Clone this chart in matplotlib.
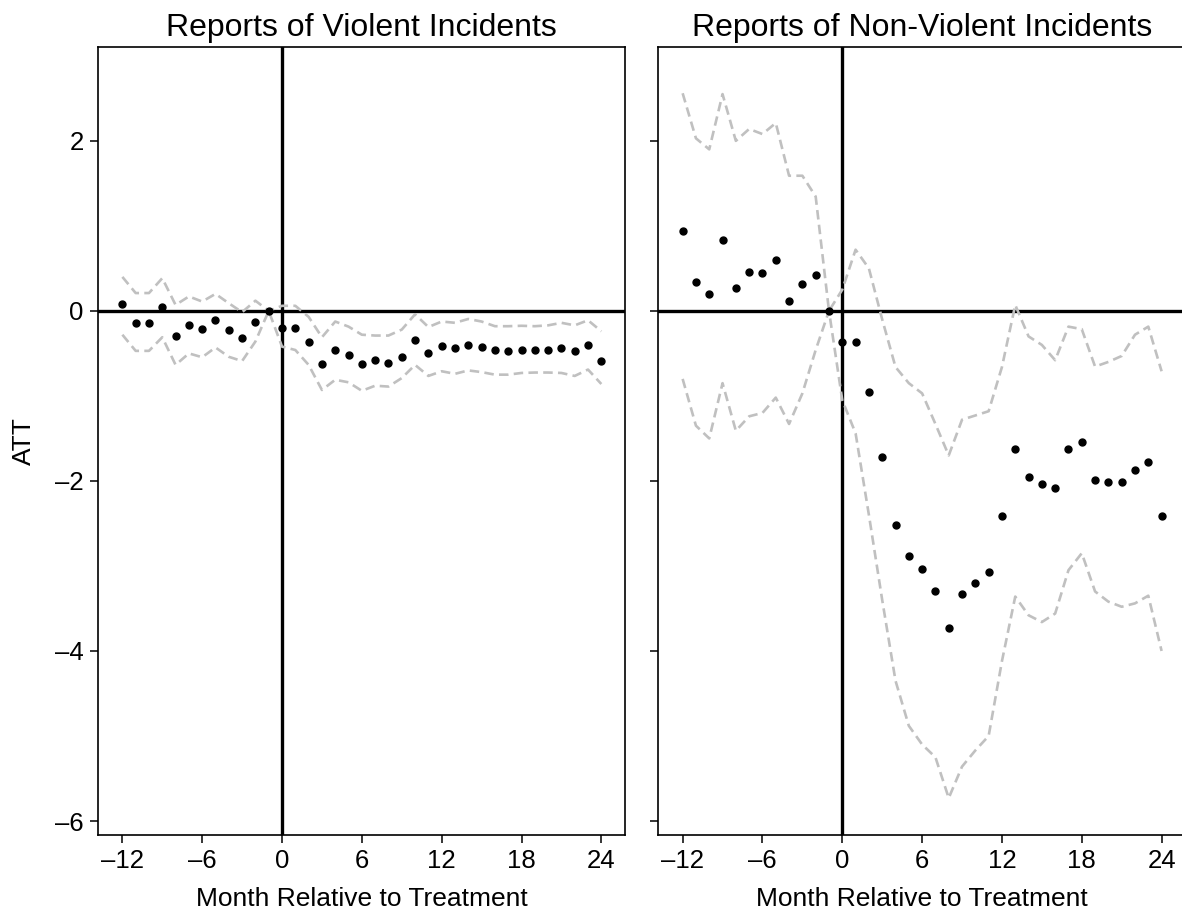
import numpy as np
import matplotlib
matplotlib.use("Agg")
import matplotlib.pyplot as plt

plt.rcParams['font.family'] = ['Liberation Sans', 'DejaVu Sans']

# Event-time axis (months relative to treatment)
months = list(range(-12, 25))

# Violent incidents: ATT estimates and 95% bounds
violent_att = [0.086, -0.145, -0.137, 0.043, -0.30, -0.17, -0.216, -0.11, -0.224, -0.318,
               -0.125, 0.0, -0.196, -0.20, -0.36, -0.63, -0.46, -0.52, -0.62, -0.58,
               -0.61, -0.54, -0.34, -0.49, -0.41, -0.44, -0.40, -0.42, -0.46, -0.47,
               -0.455, -0.46, -0.46, -0.44, -0.47, -0.40, -0.585]
violent_upper = [0.40, 0.21, 0.21, 0.385, 0.07, 0.17, 0.11, 0.20, 0.09, -0.015,
                 0.12, 0.0, 0.06, 0.06, -0.07, -0.31, -0.125, -0.185, -0.28, -0.29,
                 -0.29, -0.22, -0.04, -0.19, -0.125, -0.14, -0.095, -0.125, -0.18, -0.18,
                 -0.175, -0.18, -0.17, -0.14, -0.17, -0.11, -0.24]
violent_lower = [-0.28, -0.47, -0.47, -0.31, -0.635, -0.50, -0.545, -0.43, -0.54, -0.59,
                 -0.36, 0.0, -0.42, -0.46, -0.635, -0.93, -0.81, -0.84, -0.94, -0.88,
                 -0.89, -0.79, -0.635, -0.765, -0.71, -0.74, -0.70, -0.72, -0.75, -0.75,
                 -0.73, -0.725, -0.725, -0.73, -0.765, -0.69, -0.86]

# Non-violent incidents: ATT estimates and 95% bounds
nonviolent_att = [0.945, 0.34, 0.196, 0.83, 0.267, 0.455, 0.443, 0.60, 0.118, 0.32,
                  0.42, 0.0, -0.36, -0.37, -0.956, -1.72, -2.52, -2.88, -3.04, -3.29,
                  -3.73, -3.33, -3.20, -3.07, -2.41, -1.63, -1.95, -2.035, -2.08, -1.62,
                  -1.54, -1.99, -2.01, -2.01, -1.87, -1.78, -2.41]
nonviolent_upper = [2.56, 2.03, 1.90, 2.55, 2.00, 2.14, 2.08, 2.21, 1.59, 1.59,
                    1.345, 0.0, 0.25, 0.72, 0.50, -0.10, -0.66, -0.85, -0.97, -1.33,
                    -1.70, -1.28, -1.23, -1.18, -0.66, 0.07, -0.30, -0.40, -0.58, -0.185,
                    -0.215, -0.655, -0.60, -0.53, -0.28, -0.185, -0.71]
nonviolent_lower = [-0.80, -1.35, -1.50, -0.85, -1.41, -1.24, -1.20, -1.02, -1.33, -0.97,
                    -0.46, 0.0, -1.05, -1.44, -2.40, -3.40, -4.35, -4.88, -5.10, -5.25,
                    -5.73, -5.36, -5.17, -5.00, -4.12, -3.36, -3.58, -3.66, -3.56, -3.05,
                    -2.85, -3.30, -3.42, -3.48, -3.44, -3.35, -4.00]

titles = ["Reports of Violent Incidents", "Reports of Non-Violent Incidents"]
xticks = [-12, -6, 0, 6, 12, 18, 24]
yticks = [-6, -4, -2, 0, 2]

fig = plt.figure(figsize=(11.82, 9.13), dpi=100)
ax_left = fig.add_axes([0.0827, 0.0854, 0.4463, 0.8633])
ax_right = fig.add_axes([0.5567, 0.0854, 0.4463, 0.8633], sharey=ax_left)

panels = [
    (ax_left, violent_att, violent_upper, violent_lower),
    (ax_right, nonviolent_att, nonviolent_upper, nonviolent_lower),
]

for i, (ax, att, up, lo) in enumerate(panels):
    ax.axhline(0, color='black', lw=2.4, zorder=2)
    ax.axvline(0, color='black', lw=2.4, zorder=2)
    ax.plot(months, up, color='#c0c0c0', lw=1.9, ls=(0, (3.6, 2.0)), zorder=3)
    ax.plot(months, lo, color='#c0c0c0', lw=1.9, ls=(0, (3.6, 2.0)), zorder=3)
    ax.plot(months, att, 'o', color='black', ms=5.0, zorder=4)
    ax.set_xlim(-13.85, 25.8)
    ax.set_xticks(xticks)
    ax.set_xticklabels([str(t).replace('-', '\u2013') for t in xticks])
    ax.set_title(titles[i], fontsize=23, pad=8)
    ax.set_xlabel("Month Relative to Treatment", fontsize=19, labelpad=10)
    ax.tick_params(axis='both', direction='out', length=6, width=1.1,
                   labelsize=18.5, pad=4)
    for sp in ax.spines.values():
        sp.set_linewidth(1.2)

ax_left.set_ylim(-6.165, 3.106)
ax_left.set_yticks(yticks)
ax_left.set_yticklabels([str(t).replace('-', '\u2013') for t in yticks])
ax_left.set_ylabel("ATT", fontsize=19, labelpad=14)
ax_right.tick_params(axis='y', labelleft=False)

fig.savefig("out.png", dpi=100)
